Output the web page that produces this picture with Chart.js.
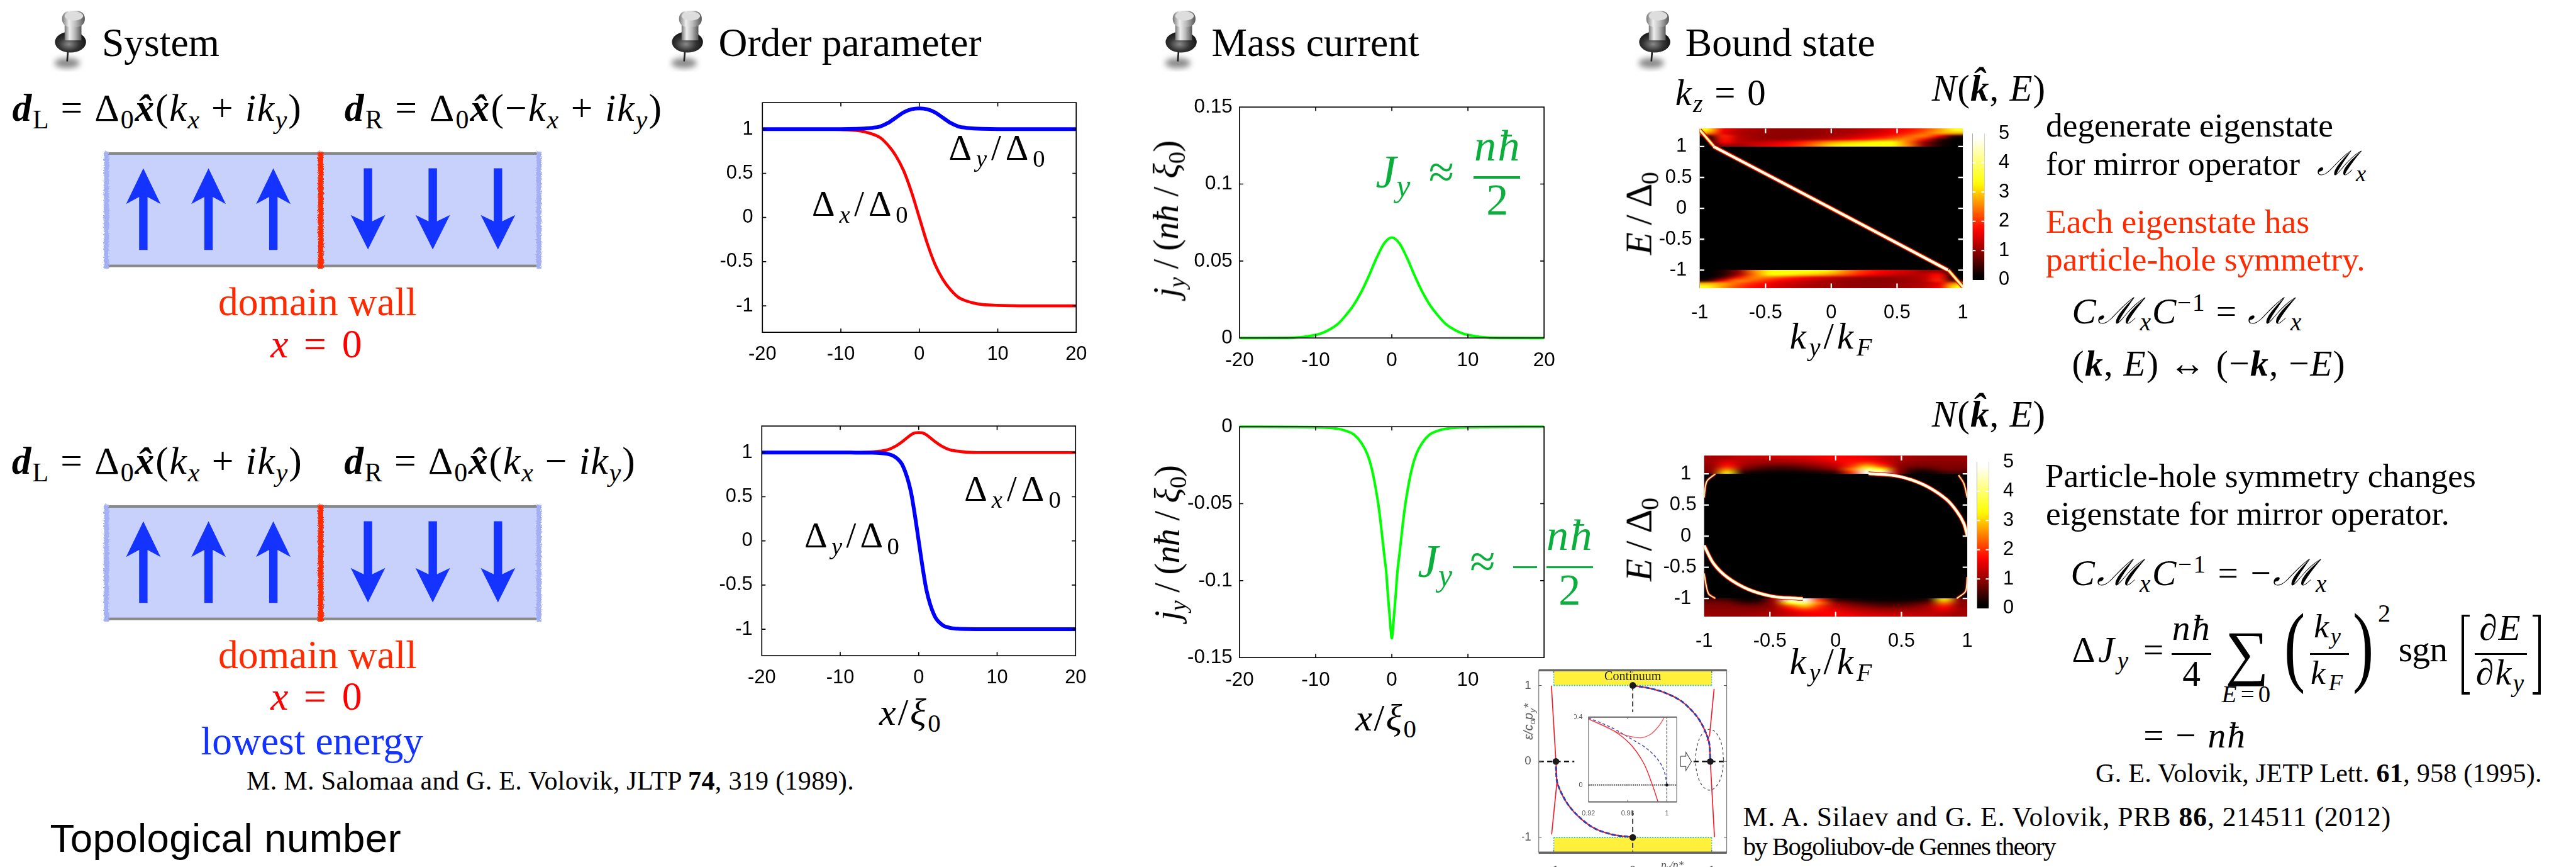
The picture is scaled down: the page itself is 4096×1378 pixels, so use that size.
<!DOCTYPE html>
<html>
<head>
<meta charset="utf-8">
<title>Domain wall</title>
<script src="https://cdn.jsdelivr.net/npm/chart.js@4"></script>
<style>
html, body { margin: 0; padding: 0; background: #fff; overflow: hidden; }
#page { position: relative; width: 4096px; height: 1378px; overflow: hidden; background: #fff; }
#page canvas, #page svg { position: absolute; }
.t { position: absolute; white-space: pre; line-height: 1; font-family: "Liberation Serif", "DejaVu Serif", serif; color: #000; }
.t sub, .t sup { font-size: .68em; line-height: 0; }
.t sub { vertical-align: -.28em; }
.t sup { vertical-align: .5em; }
.r { position: absolute; }
</style>
</head>
<body>
<div id="page"></div>
<script>
// order parameter, top panel
const opX1 = [-20, -14, -10, -8, -7, -6, -5, -4, -3, -2, -1, 0, 1, 2, 3, 4, 5, 6, 7, 8, 10, 14, 20];
const opRed1 = [1, 1, 0.995, 0.985, 0.97, 0.945, 0.905, 0.82, 0.7, 0.53, 0.29, 0, -0.29, -0.53, -0.7, -0.82, -0.905, -0.945, -0.97, -0.985, -0.995, -1, -1];
const opBlue1 = [1, 1, 1, 1.003, 1.007, 1.015, 1.03, 1.07, 1.13, 1.19, 1.225, 1.236, 1.225, 1.19, 1.13, 1.07, 1.03, 1.015, 1.007, 1.003, 1, 1, 1];

// order parameter, bottom panel
const opX2 = [-20, -10, -8, -6, -5, -4, -3, -2, -1, -0.5, 0, 0.5, 1, 2, 3, 4, 5, 6, 8, 10, 20];
const opRed2 = [1, 1, 1, 1.005, 1.015, 1.03, 1.07, 1.13, 1.2, 1.222, 1.226, 1.222, 1.2, 1.13, 1.07, 1.03, 1.015, 1.005, 1, 1, 1];
const opBlue2 = [1, 1, 0.999, 0.998, 0.995, 0.985, 0.95, 0.845, 0.56, 0.3, 0, -0.3, -0.56, -0.845, -0.95, -0.985, -0.995, -0.998, -0.999, -1, -1];

// mass current
const jX1 = [-20, -14, -12, -10, -9, -8, -7, -6, -5, -4, -3, -2, -1, 0, 1, 2, 3, 4, 5, 6, 7, 8, 9, 10, 12, 14, 20];
const jY1 = [0, 0.0001, 0.0005, 0.002, 0.0035, 0.006, 0.0095, 0.015, 0.0215, 0.03, 0.0405, 0.052, 0.0615, 0.0653, 0.0615, 0.052, 0.0405, 0.03, 0.0215, 0.015, 0.0095, 0.006, 0.0035, 0.002, 0.0005, 0.0001, 0];
const jX2 = [-20, -10, -8, -7, -6, -5, -4, -3.2, -2.6, -2.16, -1.7, -1.37, -1, -0.74, -0.5, -0.3, -0.12, 0, 0.12, 0.3, 0.5, 0.74, 1, 1.37, 1.7, 2.16, 2.6, 3.2, 4, 5, 6, 7, 8, 10, 20];
const jY2 = [0, -0.0003, -0.0008, -0.0014, -0.0027, -0.005, -0.0105, -0.018, -0.028, -0.0388, -0.053, -0.0665, -0.083, -0.094, -0.11, -0.122, -0.133, -0.1375, -0.133, -0.122, -0.11, -0.094, -0.083, -0.0665, -0.053, -0.0388, -0.028, -0.018, -0.0105, -0.005, -0.0027, -0.0014, -0.0008, -0.0003, 0];

const xTicks20 = [-20, -10, 0, 10, 20];
const opTicks = [-1, -0.5, 0, 0.5, 1];
const jTicks1 = [0, 0.05, 0.1, 0.15];
const jTicks2 = [-0.15, -0.1, -0.05, 0];
const heatTicks = [-1, -0.5, 0, 0.5, 1];
const barTicks = [0, 1, 2, 3, 4, 5];

// density of states: bands above E = 1, columns k = -1 .. 1, rows from the top down
const heatA = [
  [3.3, 1.6, 1.2, 1.05, 0.95, 0.9, 0.9, 0.95, 1, 1.05, 1.15, 1.3, 1.5, 1.75, 2.1, 2.7, 3.5],
  [2.6, 1.5, 1.1, 1, 0.9, 0.88, 0.88, 0.9, 1, 1.05, 1.2, 1.35, 1.6, 1.9, 2.3, 2.7, 2.8],
  [0.4, 1.9, 1.2, 1, 0.9, 0.88, 0.88, 0.95, 1.05, 1.2, 1.4, 1.6, 1.9, 2.3, 2.5, 1.6, 0.3],
  [0, 1.8, 1.2, 1, 0.95, 0.9, 1, 1.1, 1.3, 1.5, 1.8, 2.1, 2.4, 2.5, 1.8, 0.5, 0],
  [0, 1.7, 1.2, 1.2, 1.3, 1.5, 1.8, 2.2, 2.6, 2.9, 3.1, 3.3, 3.3, 2.4, 1, 0.2, 0],
  [0, 1, 1, 1.3, 1.5, 1.7, 2, 2.5, 3.1, 3.3, 3.4, 3.4, 3.3, 2.5, 0.9, 0.2, 0]
];
const heatB = [
  [1, 1.1, 1.25, 1.25, 1.3, 1.35, 1.4, 1.55, 1.65, 1.6, 1.5, 1.3, 1.1, 1, 0.95, 0.95, 0.95],
  [1, 1.3, 1.2, 1.1, 1.1, 1.15, 1.25, 1.4, 1.6, 1.7, 1.7, 1.35, 1.05, 0.95, 0.9, 0.9, 0.9],
  [1, 1.6, 1.1, 0.95, 0.9, 0.9, 1, 1.15, 1.4, 1.8, 2.2, 1.7, 1, 0.85, 0.85, 0.85, 0.85],
  [0.9, 1.9, 1, 0.7, 0.55, 0.55, 0.7, 0.9, 1.2, 2, 3, 2.2, 0.95, 0.7, 0.7, 0.8, 0.8],
  [0.9, 2.5, 0.7, 0.4, 0.3, 0.3, 0.4, 0.6, 0.9, 2.4, 4.2, 3.4, 1, 0.4, 0.4, 0.7, 0.7],
  [0.8, 3.2, 0.3, 0.1, 0.05, 0.05, 0.1, 0.2, 0.4, 2, 5, 5, 1, 0.15, 0.1, 0.4, 0.5]
];
const barLevels = [5, 4.75, 4.5, 4.25, 4, 3.75, 3.5, 3.25, 3, 2.75, 2.5, 2.25, 2, 1.75, 1.5, 1.25, 1, 0.75, 0.5, 0.25, 0];
const heatStops = [0, 1, 1.67, 3.33, 5];
const heatRgb = [[0, 0, 0], [160, 0, 0], [255, 0, 0], [255, 255, 0], [255, 255, 255]];

// bound state branches
const diagK = [-0.894, 0, 0.887];
const diagE = [1, 0, -1];
const cornerK1 = [-1, -0.89];
const cornerE1 = [1.27, 1];
const cornerK2 = [0.89, 1];
const cornerE2 = [-1, -1.27];
const arcK1 = [0.25, 0.287, 0.445, 0.577, 0.709, 0.842, 0.921, 0.974, 1];
const arcE1 = [1.005, 1, 0.974, 0.904, 0.782, 0.589, 0.397, 0.204, 0.01];
const arcK2 = [-1, -0.929, -0.823, -0.664, -0.479, -0.295, -0.25];
const arcE2 = [-0.15, -0.438, -0.663, -0.855, -0.968, -1, -1.005];
const thinK = [[-1, -0.98, -0.915], [0.934, 0.974, 1], [-1, -0.968, -0.915], [0.92, 0.987, 1]];
const thinE = [[0.62, 0.878, 1], [0.98, 0.846, 0.62], [-0.6, -0.92, -1], [-1, -0.887, -0.66]];

// Silaev figure
const sArcK1 = [0, 0.177, 0.398, 0.62, 0.796, 0.885, 0.965, 0.982];
const sArcE1 = [0.997, 0.97, 0.908, 0.79, 0.613, 0.47, 0.256, 0.02];
const sArcK2 = [-0.973, -0.951, -0.796, -0.53, -0.265, 0];
const sArcE2 = [-0.066, -0.298, -0.6, -0.853, -0.96, -0.995];
const sRedK1 = [1.03, 0.973, 0.938];
const sRedE1 = [0.956, 0.345, 0.273];
const sRedK2 = [0.982, 1.035];
const sRedE2 = [0, -0.995];
const sRedK3 = [-1.03, -0.973, -0.96];
const sRedE3 = [0.997, 0, -0.27];
const sRedK4 = [-0.96, -1.027];
const sRedE4 = [-0.27, -0.96];
const sDotK = [0, -0.973, 0.982, 0];
const sDotE = [1, 0, 0, -1];
const ovalK = [1.15, 1.126, 1.06, 0.973, 0.885, 0.82, 0.796, 0.82, 0.885, 0.973, 1.06, 1.126, 1.15];
const ovalE = [0.023, 0.223, 0.37, 0.423, 0.37, 0.223, 0.023, -0.177, -0.323, -0.377, -0.323, -0.177, 0.023];
const arrowK = [0.606, 0.673, 0.673, 0.743, 0.673, 0.673, 0.606, 0.606];
const arrowE = [0.068, 0.068, 0.122, 0, -0.12, -0.066, -0.066, 0.068];
const insetRedK1 = [0.92, 0.9365, 0.954, 0.972, 0.983, 0.992, 0.9975];
const insetRedE1 = [0.389, 0.345, 0.3, 0.278, 0.297, 0.349, 0.4];
const insetRedK2 = [0.92, 0.944, 0.962, 0.976, 0.985, 0.991];
const insetRedE2 = [0.389, 0.325, 0.245, 0.132, 0.004, -0.1];
const insetBlueK = [0.92, 0.944, 0.962, 0.98, 0.992, 0.9975, 1];
const insetBlueE = [0.396, 0.337, 0.277, 0.212, 0.14, 0.076, 0.004];

const S = 4096 / 6123;
const page = document.getElementById("page");
const sans = '"Liberation Sans", Arial, sans-serif';

Chart.defaults.animation = false;
Chart.defaults.responsive = false;
Chart.defaults.devicePixelRatio = 1;
Chart.defaults.plugins.legend.display = false;
Chart.defaults.plugins.tooltip.enabled = false;

function pts(xs, ys) {
  return xs.map((x, i) => ({ x: x, y: ys[i] }));
}

function line(xs, ys, color, width, extra) {
  return Object.assign({
    data: pts(xs, ys), showLine: true, borderColor: color, backgroundColor: color,
    borderWidth: width * S, pointRadius: 0, clip: false, fill: false
  }, extra || {});
}

function curve(xs, ys, color, width) {
  return line(xs, ys, color, width, { cubicInterpolationMode: "monotone" });
}

// three strokes on top of each other for the bright ridges
function ridge(xs, ys, wide, mid, core) {
  return [
    line(xs, ys, "#ffffff", core, { tension: 0.3, clip: undefined }),
    line(xs, ys, "#ffe040", mid, { tension: 0.3, clip: undefined }),
    line(xs, ys, "#e00000", wide, { tension: 0.3, clip: undefined })
  ];
}

function heatColor(v) {
  let i = 0;
  while (i < heatStops.length - 2 && v > heatStops[i + 1]) i++;
  const f = Math.min(1, Math.max(0, (v - heatStops[i]) / (heatStops[i + 1] - heatStops[i])));
  const c = heatRgb[i].map((a, n) => Math.round(a + (heatRgb[i + 1][n] - a) * f));
  return "rgb(" + c.join(",") + ")";
}

function heatPlugin(bands) {
  return {
    id: "heat",
    beforeDatasetsDraw(chart) {
      const c = chart.ctx, a = chart.chartArea, xs = chart.scales.x, ys = chart.scales.y;
      c.save();
      c.fillStyle = "#000";
      c.fillRect(a.left, a.top, a.width, a.height);
      bands.forEach(b => {
        const off = document.createElement("canvas");
        off.width = b.rows[0].length;
        off.height = b.rows.length;
        const o = off.getContext("2d");
        b.rows.forEach((row, j) => row.forEach((v, i) => {
          o.fillStyle = heatColor(v);
          o.fillRect(i, j, 1, 1);
        }));
        const x0 = xs.getPixelForValue(b.x[0]), x1 = xs.getPixelForValue(b.x[1]);
        const y0 = ys.getPixelForValue(b.y[0]), y1 = ys.getPixelForValue(b.y[1]);
        c.imageSmoothingEnabled = true;
        c.imageSmoothingQuality = "high";
        c.drawImage(off, x0, y0, x1 - x0, y1 - y0);
      });
      c.restore();
    }
  };
}

// box and inward ticks on all four sides
function framePlugin(o) {
  return {
    id: "frame",
    beforeDraw(chart) {
      if (!o.paper) return;
      chart.ctx.save();
      chart.ctx.fillStyle = "#fff";
      chart.ctx.fillRect(0, 0, chart.width, chart.height);
      chart.ctx.restore();
    },
    afterDatasetsDraw(chart) {
      const c = chart.ctx, a = chart.chartArea, L = (o.len || 9) * S;
      c.save();
      c.strokeStyle = o.color || "#000";
      c.lineWidth = (o.width || 2.5) * S;
      if (o.box !== false) c.strokeRect(a.left, a.top, a.width, a.height);
      if (o.thick) {
        c.save();
        c.lineWidth = o.thick * S;
        c.beginPath();
        c.moveTo(a.left, a.top); c.lineTo(a.right, a.top);
        c.moveTo(a.left, a.bottom); c.lineTo(a.right, a.bottom);
        c.stroke();
        c.restore();
      }
      c.beginPath();
      (chart.scales.x.options.display ? chart.scales.x.ticks : []).forEach(t => {
        const p = chart.scales.x.getPixelForValue(t.value);
        if (p < a.left + 2 || p > a.right - 2) return;
        c.moveTo(p, a.bottom); c.lineTo(p, a.bottom - L);
        c.moveTo(p, a.top); c.lineTo(p, a.top + L);
      });
      chart.scales.y.ticks.forEach(t => {
        const p = chart.scales.y.getPixelForValue(t.value);
        if (p < a.top + 2 || p > a.bottom - 2) return;
        c.moveTo(a.left, p); c.lineTo(a.left + L, p);
        c.moveTo(a.right, p); c.lineTo(a.right - L, p);
      });
      c.stroke();
      c.restore();
    }
  };
}

function axis(min, max, ticks, o) {
  return {
    type: "linear", min: min, max: max, position: o.position,
    display: o.display !== false,
    grid: { display: false },
    border: { display: false },
    afterBuildTicks: s => { s.ticks = ticks.map(v => ({ value: v })); },
    afterFit: s => {
      if (o.size === undefined) return;
      if (s.isHorizontal()) s.height = o.size * S; else s.width = o.size * S;
    },
    ticks: {
      autoSkip: false, maxRotation: 0, minRotation: 0, includeBounds: false,
      color: o.color || "#000",
      padding: (o.pad || 0) * S,
      font: { family: sans, size: (o.font || 45) * S },
      callback: o.label || (v => String(v))
    }
  };
}

// box is the plot area in reference pixels, pads are the margins round it
function plot(box, pads, xAxis, yAxis, datasets, plugins) {
  const left = Math.round((box.l - pads.l) * S), top = Math.round((box.t - pads.t) * S);
  const right = Math.round((box.r + pads.r) * S), bottom = Math.round((box.b + pads.b) * S);
  const cv = document.createElement("canvas");
  cv.width = right - left;
  cv.height = bottom - top;
  cv.style.left = left + "px";
  cv.style.top = top + "px";
  cv.style.width = (right - left) + "px";
  cv.style.height = (bottom - top) + "px";
  page.appendChild(cv);
  const onRight = yAxis.position === "right";
  const noX = xAxis.display === false;
  return new Chart(cv, {
    type: "scatter",
    data: { datasets: datasets },
    options: {
      layout: { padding: {
        left: onRight ? pads.l * S : 0, right: onRight ? 0 : pads.r * S,
        top: pads.t * S, bottom: noX ? pads.b * S : 0
      } },
      scales: { x: xAxis, y: yAxis }
    },
    plugins: plugins
  });
}

// text: x and y are the left end (or centre) of the baseline in reference pixels
function txt(x, y, size, html, o) {
  o = o || {};
  const el = document.createElement("div");
  el.className = "t";
  el.innerHTML = html;
  const k = o.sans ? 0.8465 : 0.8375;
  el.style.fontSize = size * S + "px";
  el.style.left = x * S + "px";
  el.style.top = (y - k * size) * S + "px";
  if (o.sans) el.style.fontFamily = sans;
  if (o.color) el.style.color = o.color;
  page.appendChild(el);
  if (o.w) {
    const n = el.textContent.length;
    el.style.letterSpacing = (o.w * S - el.getBoundingClientRect().width) / n + "px";
  }
  if (o.rot) {
    el.style.top = y * S + "px";
    el.style.transform = "translate(-50%,-50%) rotate(-90deg)";
  } else if (o.center) {
    el.style.transform = "translateX(-50%)";
  } else if (o.sx) {
    el.style.transformOrigin = "0 0";
    el.style.transform = "scaleX(" + o.sx + ")";
  }
  return el;
}

function rect(x, y, w, h, color) {
  const el = document.createElement("div");
  el.className = "r";
  el.style.left = x * S + "px";
  el.style.top = y * S + "px";
  el.style.width = w * S + "px";
  el.style.height = h * S + "px";
  el.style.background = color;
  page.appendChild(el);
}

function svg(x, y, w, h, inner) {
  const wrap = document.createElement("div");
  wrap.innerHTML = '<svg xmlns="http://www.w3.org/2000/svg" viewBox="0 0 ' + w + " " + h + '" width="' + w * S + '" height="' + h * S +
    '" style="left:' + x * S + "px;top:" + y * S + 'px">' + inner + "</svg>";
  page.appendChild(wrap.firstChild);
}

// pins next to the headings
function pin(x) {
  svg(x, 24, 90, 146,
    '<defs><linearGradient id="m' + x + '" x1="0" x2="1" y1="0" y2="0"><stop offset="0" stop-color="#777"/><stop offset=".3" stop-color="#eee"/><stop offset=".6" stop-color="#bbb"/><stop offset="1" stop-color="#555"/></linearGradient>' +
    '<radialGradient id="b' + x + '" cx=".45" cy=".6" r=".6"><stop offset="0" stop-color="#8a8a8a"/><stop offset=".55" stop-color="#333"/><stop offset="1" stop-color="#111"/></radialGradient>' +
    '<filter id="f' + x + '" x="-40%" y="-40%" width="180%" height="180%"><feGaussianBlur stdDeviation="7"/></filter></defs>' +
    '<ellipse cx="40" cy="126" rx="30" ry="12" fill="#888" filter="url(#f' + x + ')"/>' +
    '<path d="M42 96 L40 122" stroke="#222" stroke-width="4"/>' +
    '<ellipse cx="48" cy="76" rx="37" ry="25" fill="url(#b' + x + ')"/>' +
    '<rect x="34" y="36" width="40" height="36" fill="url(#m' + x + ')"/>' +
    '<rect x="28" y="2" width="54" height="38" rx="18" fill="url(#m' + x + ')"/>' +
    '<ellipse cx="56" cy="14" rx="22" ry="11" fill="#ddd"/>');
}
[120, 1586, 2759, 3885].forEach(pin);

[["System", 242], ["Order parameter", 1708], ["Mass current", 2880], ["Bound state", 4006]].forEach(h => {
  txt(h[1], 134, 95, h[0]);
});

// domain wall strip
const blue = "#1433ff";
function upArrow(x, y) {
  return '<path d="M' + x + " " + y + " l41 85 l-31 -17 v126 h-20 v-126 l-31 17 z" + '" fill="' + blue + '"/>';
}
function downArrow(x, y) {
  return '<path d="M' + x + " " + (y + 193) + " l41 -82 l-31 15 v-126 h-20 v126 l-31 -15 z" + '" fill="' + blue + '"/>';
}
function strip(id, y) {
  let s = '<defs><filter id="w' + id + '" x="-50%" y="0" width="200%" height="100%"><feTurbulence baseFrequency="0.25" numOctaves="2" seed="3"/><feDisplacementMap in="SourceGraphic" scale="9"/></filter></defs>';
  s += '<rect x="10" y="8" width="1028" height="270" fill="#c8d0fc"/>';
  s += '<rect x="10" y="6" width="1028" height="6" fill="#888"/><rect x="10" y="273" width="1028" height="6" fill="#888"/>';
  s += '<rect x="4" y="2" width="12" height="280" fill="#a4b0f4" filter="url(#w' + id + ')"/>';
  s += '<rect x="1032" y="2" width="12" height="280" fill="#a4b0f4" filter="url(#w' + id + ')"/>';
  s += '<rect x="513" y="2" width="13" height="280" fill="#ff2a00" filter="url(#w' + id + ')"/>';
  [100, 255, 409].forEach(x => { s += upArrow(x, 44); });
  [634, 788, 943].forEach(x => { s += downArrow(x, 44); });
  svg(240, y, 1050, 284, s);
}
strip("a", 356);
strip("b", 1194);

const red = "#ff2a00";
txt(755, 750, 95, "domain wall", { color: red, center: true });
txt(755, 849, 95, "<i>x</i> = 0", { color: "#ff0000", center: true, w: 224 });
txt(755, 1588, 95, "domain wall", { color: red, center: true });
txt(755, 1686, 95, "<i>x</i> = 0", { color: "#ff0000", center: true, w: 224 });
txt(742, 1792, 95, "lowest energy", { color: blue, center: true });

const dL = "<b><i>d</i></b><sub>L</sub> = Δ<sub>0</sub><b><i>x̂</i></b>(";
const dR = "<b><i>d</i></b><sub>R</sub> = Δ<sub>0</sub><b><i>x̂</i></b>(";
txt(29, 288, 92, dL + "<i>k<sub>x</sub></i> + <i>ik<sub>y</sub></i>)", { w: 692 });
txt(819, 288, 92, dR + "−<i>k<sub>x</sub></i> + <i>ik<sub>y</sub></i>)", { w: 760 });
txt(28, 1126, 92, dL + "<i>k<sub>x</sub></i> + <i>ik<sub>y</sub></i>)", { w: 695 });
txt(818, 1126, 92, dR + "<i>k<sub>x</sub></i> − <i>ik<sub>y</sub></i>)", { w: 697 });

txt(586, 1876, 63, "M. M. Salomaa and G. E. Volovik, JLTP <b>74</b>, 319 (1989).", { w: 1444 });
txt(119, 2024, 95, "Topological number", { sans: true, w: 835 });

// order parameter charts
const opFrame = () => [framePlugin({})];
plot({ l: 1812, t: 237, r: 2558, b: 790 }, { l: 120, t: 30, r: 40, b: 70 },
  axis(-20, 20, xTicks20, { size: 70, pad: 14, font: 46 }),
  axis(-1.3, 1.3, opTicks, { size: 120, pad: 10, font: 46 }),
  [curve(opX1, opBlue1, "#0000ff", 9), curve(opX1, opRed1, "#ff0000", 7)], opFrame());
plot({ l: 1810, t: 1005, r: 2556, b: 1558 }, { l: 120, t: 30, r: 40, b: 70 },
  axis(-20, 20, xTicks20, { size: 70, pad: 14, font: 46 }),
  axis(-1.3, 1.3, opTicks, { size: 120, pad: 10, font: 46 }),
  [curve(opX2, opBlue2, "#0000ff", 9), curve(opX2, opRed2, "#ff0000", 7)], opFrame());

const dy = "Δ<sub><i>y</i></sub>/Δ<sub>0</sub>", dx = "Δ<sub><i>x</i></sub>/Δ<sub>0</sub>";
txt(2255, 381, 85, dy, { w: 239 });
txt(1930, 513, 85, dx, { w: 238 });
txt(1912, 1301, 85, dy, { w: 235 });
txt(2292, 1191, 85, dx, { w: 240 });
const xXi = "<i>x</i>/<i>ξ</i><sub>0</sub>";
txt(2090, 1723, 90, xXi, { w: 150 });
txt(3222, 1736, 90, xXi, { w: 148 });

// mass current charts
plot({ l: 2946, t: 251, r: 3670, b: 803 }, { l: 130, t: 30, r: 40, b: 70 },
  axis(-20, 20, xTicks20, { size: 70, pad: 14, font: 47 }),
  axis(0, 0.15, jTicks1, { size: 130, pad: 5, font: 47 }),
  [curve(jX1, jY1, "#00ff00", 6)], opFrame());
plot({ l: 2946, t: 1011, r: 3670, b: 1563 }, { l: 130, t: 30, r: 40, b: 70 },
  axis(-20, 20, xTicks20, { size: 70, pad: 14, font: 47 }),
  axis(-0.15, 0, jTicks2, { size: 130, pad: 5, font: 47 }),
  [curve(jX2, jY2, "#00ff00", 6)], opFrame());

const jLabel = "<i>j<sub>y</sub></i> / (<i>nħ</i> / <i>ξ</i><sub>0</sub>)";
txt(2772, 520, 84, jLabel, { rot: true, w: 372 });
txt(2775, 1290, 84, jLabel, { rot: true, w: 368 });

const green = "#0aae3c";
txt(3270, 446, 110, "<i>J<sub>y</sub></i>", { color: green });
txt(3396, 446, 110, "≈", { color: green });
txt(3504, 381, 105, "<i>nħ</i>", { color: green, w: 112 });
rect(3503, 419, 110, 5, green);
txt(3559, 510, 105, "2", { color: green, center: true });
txt(3370, 1371, 110, "<i>J<sub>y</sub></i>", { color: green });
txt(3494, 1371, 110, "≈", { color: green });
rect(3597, 1345, 57, 5, green);
txt(3676, 1307, 105, "<i>nħ</i>", { color: green, w: 112 });
rect(3676, 1345, 110, 5, green);
txt(3731, 1436, 105, "2", { color: green, center: true });

// bound state heat maps
const upright = g => g.slice().reverse().map(r => r.slice().reverse());
const keLabel = v => (Number.isInteger(v) ? v + " " : String(v));
function heatChart(box, grid, lines) {
  const bands = [
    { x: [-1, 1], y: [1.29, 1], rows: grid },
    { x: [-1, 1], y: [-1, -1.29], rows: upright(grid) }
  ];
  return plot(box, { l: 140, t: 30, r: 30, b: 90 },
    axis(-1, 1, heatTicks, { size: 90, pad: 20, font: 46 }),
    axis(-1.29, 1.29, heatTicks, { size: 140, pad: 6, font: 46, label: keLabel }),
    lines, [heatPlugin(bands), framePlugin({ color: "#fff", box: false, width: 3.5, len: 11 })]);
}
heatChart({ l: 4040, t: 302, r: 4669, b: 685 }, heatA,
  [].concat(ridge(diagK, diagE, 11, 7, 5), ridge(cornerK1, cornerE1, 10, 6, 2), ridge(cornerK2, cornerE2, 10, 6, 2)));
heatChart({ l: 4051, t: 1080, r: 4679, b: 1465 }, heatB,
  [].concat(ridge(arcK1, arcE1, 10, 7, 5), ridge(arcK2, arcE2, 10, 7, 5),
    thinK.flatMap((k, i) => ridge(k, thinE[i], 6, 3, 1.5))));

function colorBar(box) {
  return plot(box, { l: 4, t: 30, r: 70, b: 30 },
    axis(0, 1, [], { display: false }),
    axis(0, 5, barTicks, { position: "right", size: 70, pad: 22, font: 46 }),
    [], [heatPlugin([{ x: [0, 1], y: [5, 0], rows: barLevels.map(v => [v]) }]),
      framePlugin({ color: "#fff", box: false, width: 3, len: 7 })]);
}
colorBar({ l: 4689, t: 297, r: 4717, b: 685 });
colorBar({ l: 4700, t: 1078, r: 4727, b: 1465 });

const eLabel = "<i>E</i> / Δ<sub>0</sub>";
txt(3897, 509, 88, eLabel, { rot: true, w: 195 });
txt(3897, 1282, 88, eLabel, { rot: true, w: 197 });
const kLabel = "<i>k<sub>y</sub></i>/<i>k<sub>F</sub></i>";
txt(4254, 830, 88, kLabel, { w: 203 });
txt(4254, 1603, 88, kLabel, { w: 203 });
txt(3982, 252, 88, "<i>k<sub>z</sub></i> = 0", { w: 218 });
const nLabel = "<i>N</i>(<b><i>k̂</i></b>, <i>E</i>)";
txt(4592, 241, 88, nLabel, { w: 273 });
txt(4592, 1015, 88, nLabel, { w: 273 });

// right column
const M = '<i style="font-family:\'DejaVu Serif\'">ℳ</i><sub><i>x</i></sub>';
const C = "<i>C</i>";
txt(4863, 325, 80, "degenerate eigenstate", { w: 683 });
txt(4863, 415, 80, "for mirror operator  " + M);
txt(4863, 554, 80, "Each eigenstate has", { color: red });
txt(4863, 644, 80, "particle-hole symmetry.", { color: red });
txt(4925, 768, 86, C + M + C + "<sup>−1</sup> = " + M, { w: 548 });
txt(4925, 892, 86, "(<b><i>k</i></b>, <i>E</i>) ↔ (−<b><i>k</i></b>, −<i>E</i>)", { w: 651 });
txt(4861, 1159, 80, "Particle-hole symmetry changes", { w: 1024 });
txt(4863, 1248, 80, "eigenstate for mirror operator.");
txt(4922, 1390, 86, C + M + C + "<sup>−1</sup> = −" + M, { w: 612 });
txt(4925, 1573, 86, "Δ<i>J<sub>y</sub></i> =", { w: 225 });
txt(5163, 1521, 86, "<i>nħ</i>", { w: 93 });
rect(5162, 1552, 94, 4, "#000");
txt(5209, 1629, 86, "4", { center: true });
txt(5341, 1600, 145, "∑", { center: true });
txt(5281, 1669, 58, "<i>E</i>=0", { w: 125 });
txt(5429, 1604, 213, "(", { sx: 0.7 });
txt(5500, 1515, 80, "<i>k<sub>y</sub></i>", { w: 68 });
rect(5490, 1552, 94, 4, "#000");
txt(5492, 1626, 80, "<i>k<sub>F</sub></i>", { w: 84 });
txt(5593, 1604, 213, ")", { sx: 0.7 });
txt(5652, 1478, 60, "2");
txt(5701, 1572, 86, "sgn", { w: 116 });
rect(5851, 1460, 6, 190, "#000");
rect(5851, 1460, 20, 5, "#000");
rect(5851, 1645, 20, 5, "#000");
txt(5893, 1521, 86, "∂<i>E</i>", { w: 101 });
rect(5882, 1552, 125, 4, "#000");
txt(5885, 1627, 86, "∂<i>k<sub>y</sub></i>", { w: 118 });
rect(6034, 1460, 6, 190, "#000");
rect(6020, 1460, 20, 5, "#000");
rect(6020, 1645, 20, 5, "#000");
txt(5095, 1776, 86, "= − <i>nħ</i>", { w: 245 });
txt(4981, 1859, 63, "G. E. Volovik, JETP Lett. <b>61</b>, 958 (1995).", { w: 1061 });
txt(4143, 1963, 65, "M. A. Silaev and G. E. Volovik, PRB <b>86</b>, 214511 (2012)", { w: 1541 });
txt(4143, 2033, 61, "by Bogoliubov-de Gennes theory", { w: 742 });

// Silaev and Volovik figure, pasted over the last tick label of the chart next to it
const gray = "#555";
const sRed = "#f01c28";
const sBox = { l: 3658, t: 1590, r: 4104, b: 2026 };
plot(sBox, { l: 40, t: 20, r: 20, b: 34 },
  axis(-1.19, 1.19, [-1, 0, 1], { size: 34, pad: 14, font: 26, color: gray }),
  axis(-1.2, 1.2, [-1, 0, 1], { size: 40, pad: 6, font: 28, color: gray }),
  [
    line(sDotK, sDotE, "#1a1a1a", 0, { showLine: false, pointRadius: 8 * S, pointBackgroundColor: "#1a1a1a" }),
    line(sArcK1, sArcE1, "#3a3fa8", 4.5, { tension: 0.3, borderDash: [10 * S, 5 * S] }),
    line(sArcK2, sArcE2, "#3a3fa8", 4.5, { tension: 0.3, borderDash: [10 * S, 5 * S] }),
    line(sArcK1, sArcE1, sRed, 3, { tension: 0.3 }),
    line(sArcK2, sArcE2, sRed, 3, { tension: 0.3 }),
    line(sRedK1, sRedE1, sRed, 2.5),
    line(sRedK2, sRedE2, sRed, 2.5),
    line(sRedK3, sRedE3, sRed, 2.5),
    line(sRedK4, sRedE4, sRed, 2.5),
    line(ovalK, ovalE, "#555", 2, { tension: 0.4, borderDash: [6 * S, 6 * S] }),
    line(arrowK, arrowE, "#333", 1.5),
    line([0, 0], [1, 0.65], "#111", 2.5, { borderDash: [12 * S, 7 * S] }),
    line([0, 0], [-0.65, -1.2], "#111", 2.5, { borderDash: [12 * S, 7 * S] }),
    line([-1.19, -0.74], [0, 0], "#111", 4, { borderDash: [12 * S, 8 * S] }),
    line([0.77, 1.19], [0, 0], "#111", 4, { borderDash: [12 * S, 8 * S] }),
    line([-1, -1], [1, 1.2], "#30c0e0", 2, { borderDash: [3 * S, 3 * S] }),
    line([1, 1], [1, 1.2], "#30c0e0", 2, { borderDash: [3 * S, 3 * S] }),
    line([-1, -1], [-1, -1.2], "#30c0e0", 2, { borderDash: [3 * S, 3 * S] }),
    line([1, 1], [-1, -1.2], "#30c0e0", 2, { borderDash: [3 * S, 3 * S] }),
    line([-1, 1], [1, 1], "#30c0e0", 3, { borderDash: [3 * S, 3 * S], fill: "end", backgroundColor: "#fff03c" }),
    line([-1, 1], [-1, -1], "#30c0e0", 3, { borderDash: [3 * S, 3 * S], fill: "start", backgroundColor: "#fff03c" })
  ], [framePlugin({ color: "#666", width: 1.5, thick: 5, len: 7, paper: true })]);
txt(3881, 1616, 30, "Continuum", { center: true, color: "#222" });
txt(3633, 1714, 30, "<i>ε/c<sub>o</sub>p<sub>y</sub>*</i>", { rot: true, sans: true, color: gray });
txt(3948, 2064, 26, "<i>p<sub>y</sub>/p*</i>", { color: gray });

plot({ l: 3776, t: 1702, r: 3985, b: 1905 }, { l: 34, t: 10, r: 6, b: 32 },
  axis(0.92, 1.01, [0.92, 0.96, 1], { size: 32, pad: 6, font: 16, color: gray }),
  axis(-0.1, 0.4, [0, 0.4], { size: 34, pad: 2, font: 16, color: gray }),
  [
    line([1], [0], "#111", 0, { showLine: false, pointRadius: 3.5 * S, pointBackgroundColor: "#111" }),
    line(insetRedK1, insetRedE1, "#ee5a62", 2, { tension: 0.35 }),
    line(insetRedK2, insetRedE2, sRed, 2, { tension: 0.35 }),
    line(insetBlueK, insetBlueE, "#4a4fb0", 2.2, { tension: 0.35, borderDash: [7 * S, 5 * S] }),
    line([1, 1], [-0.1, 0.4], "#111", 1.5, { borderDash: [6 * S, 3 * S] }),
    line([0.92, 1.01], [0, 0], "#222", 2.5, { borderDash: [3 * S, 2 * S] })
  ], [framePlugin({ color: "#666", width: 1.5, thick: 3, len: 5 })]);
</script>
</body>
</html>
